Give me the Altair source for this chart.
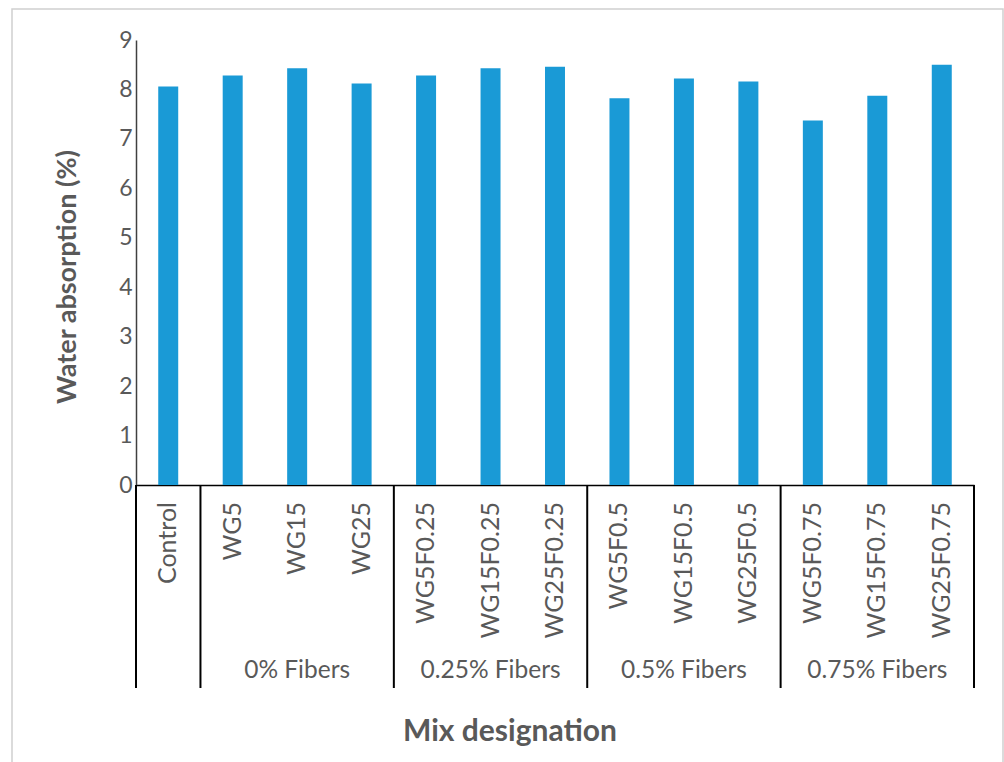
import altair as alt
import pandas as pd

categories = ["Control", "WG5", "WG15", "WG25", "WG5F0.25", "WG15F0.25", "WG25F0.25",
              "WG5F0.5", "WG15F0.5", "WG25F0.5", "WG5F0.75", "WG15F0.75", "WG25F0.75"]
values = [8.06, 8.28, 8.43, 8.12, 8.28, 8.43, 8.46, 7.82, 8.22, 8.16, 7.37, 7.87, 8.50]
groups = ["", "0% Fibers", "0% Fibers", "0% Fibers", "0.25% Fibers", "0.25% Fibers", "0.25% Fibers",
          "0.5% Fibers", "0.5% Fibers", "0.5% Fibers", "0.75% Fibers", "0.75% Fibers", "0.75% Fibers"]
group_labels = ["0% Fibers", "0.25% Fibers", "0.5% Fibers", "0.75% Fibers"]
group_mid = ["WG15", "WG15F0.25", "WG15F0.5", "WG15F0.75"]
boundary_left = ["Control", "WG5", "WG5F0.25", "WG5F0.5", "WG5F0.75"]
boundary_right = ["WG25F0.75"]

df = pd.DataFrame({"cat": categories, "val": values, "grp": groups})
gdf = pd.DataFrame({"cat": group_mid, "lbl": group_labels})
bl = pd.DataFrame({"cat": boundary_left})
br = pd.DataFrame({"cat": boundary_right})
frame = pd.DataFrame({"k": [0]})

W, H = 838, 445
step = W / len(categories)
FONT = "Lato"
GREY = "#595959"

xscale = alt.Scale(domain=categories, paddingInner=0.69, paddingOuter=0.345)
xenc = alt.X("cat:N", scale=xscale, axis=alt.Axis(labels=False, ticks=False, title=None,
                                                   domainColor="#000000", domainWidth=1.5))

bars = alt.Chart(df).mark_bar(color="#1A9AD6").encode(
    x=xenc,
    y=alt.Y("val:Q", scale=alt.Scale(domain=[0, 9]),
            axis=alt.Axis(values=list(range(10)), title=None, ticks=False, grid=False,
                          labelFontSize=23, labelColor=GREY, labelFont=FONT, labelPadding=4,
                          domainColor="#404040", domainWidth=1.5)),
)

cat_text = alt.Chart(df).mark_text(angle=270, align="right", baseline="middle",
                                   fontSize=25, font=FONT, color=GREY).encode(
    x=alt.X("cat:N", scale=xscale), y=alt.value(462), text="cat:N")

grp_text = alt.Chart(gdf).mark_text(align="center", baseline="middle",
                                    fontSize=24.5, font=FONT, color=GREY).encode(
    x=alt.X("cat:N", scale=xscale), y=alt.value(631), text="lbl:N")

rules_l = alt.Chart(bl).mark_rule(color="#000000", strokeWidth=2, xOffset=-step / 2).encode(
    x=alt.X("cat:N", scale=xscale), y=alt.value(H), y2=alt.value(648))
rules_r = alt.Chart(br).mark_rule(color="#000000", strokeWidth=2, xOffset=step / 2).encode(
    x=alt.X("cat:N", scale=xscale), y=alt.value(H), y2=alt.value(648))

xtitle = alt.Chart(frame).mark_text(fontSize=30, font=FONT, fontWeight="bold", color=GREY,
                                    align="center", baseline="middle").encode(
    x=alt.value(374), y=alt.value(692), text=alt.value("Mix designation"))
ytitle = alt.Chart(frame).mark_text(fontSize=27, font=FONT, fontWeight="bold", color=GREY,
                                    angle=270, align="center", baseline="middle").encode(
    x=alt.value(-68), y=alt.value(237), text=alt.value("Water absorption (%)"))

border = alt.Chart(frame).mark_rect(fill=None, stroke="#D0D0D0", strokeWidth=1.5).encode(
    x=alt.value(-124), x2=alt.value(867), y=alt.value(-31), y2=alt.value(800))

chart = alt.layer(border, bars, cat_text, grp_text, rules_l, rules_r, xtitle, ytitle).properties(
    width=W, height=H,
    background="white",
    autosize=alt.AutoSizeParams(type="none"),
    padding={"left": 136, "top": 40, "right": 30, "bottom": 277},
).configure_view(strokeWidth=0, stroke="transparent")

chart.save("out.html", embed_options={"renderer": "svg", "actions": False})
